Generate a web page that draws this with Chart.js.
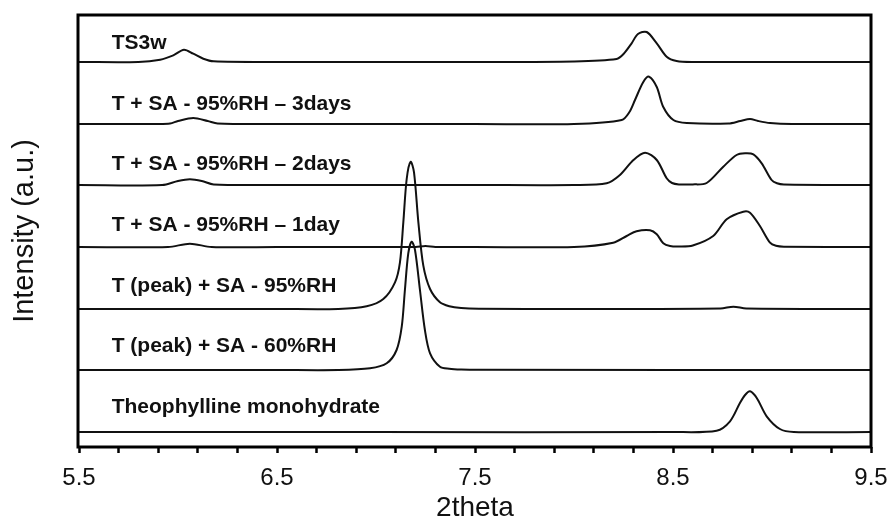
<!DOCTYPE html>
<html>
<head>
<meta charset="utf-8">
<script src="https://cdn.jsdelivr.net/npm/chart.js@4.4.1/dist/chart.umd.min.js"></script>
<style>
  html, body { margin: 0; padding: 0; background: #fff; }
  #wrap { width: 888px; height: 522px; }
</style>
</head>
<body>
<div id="wrap"><canvas id="myChart" width="888" height="522"></canvas></div>
<script>
// sample names, top to bottom
const names = [
  'TS3w',
  'T + SA - 95%RH \u2013 3days',
  'T + SA - 95%RH \u2013 2days',
  'T + SA - 95%RH \u2013 1day',
  'T (peak) + SA - 95%RH',
  'T (peak) + SA - 60%RH',
  'Theophylline monohydrate'
];

// vertical offset of each pattern (a.u.)
const offsets = [385, 323, 262, 200, 138, 77, 15];

// 2theta readings and intensities (above own baseline)
const ts3wX = [5.5, 5.8, 5.91, 5.976, 6.03, 6.077, 6.128, 6.18, 6.5, 7.0, 7.5, 8.0, 8.215, 8.25, 8.291, 8.323, 8.367, 8.418, 8.468, 8.518, 8.6, 9.0, 9.5];
const ts3wY = [0, 0, 2.3, 6.7, 12.3, 8.3, 3.3, 0.7, 0, 0, 0, 0.5, 3, 8, 18.7, 28, 30, 18.7, 5.3, 1, 0, 0, 0];

const day3X = [5.5, 5.9, 5.96, 6.0, 6.077, 6.15, 6.2, 6.5, 7.0, 7.5, 8.0, 8.241, 8.28, 8.308, 8.35, 8.379, 8.418, 8.451, 8.502, 8.57, 8.78, 8.84, 8.889, 8.93, 8.99, 9.1, 9.5];
const day3Y = [0, 0, 0.5, 3, 6, 3, 0.5, 0, 0, 0, 0, 4, 12, 24, 42, 47.3, 37, 17, 4, 1, 0.5, 3, 5, 3, 1, 0, 0];

const day2X = [5.5, 5.92, 6.0, 6.06, 6.12, 6.18, 6.5, 7.0, 7.5, 8.0, 8.165, 8.232, 8.3, 8.359, 8.418, 8.468, 8.495, 8.53, 8.6, 8.67, 8.754, 8.821, 8.864, 8.906, 8.948, 8.998, 9.025, 9.06, 9.5];
const day2Y = [0, 0, 4, 5.7, 4, 0.5, 0, 0, 0, 0, 1.7, 10, 25, 32.3, 25, 6.7, 2, 0.6, 0.6, 2, 18.3, 30, 31.7, 30.7, 21.7, 5, 1.8, 0.6, 0];

const day1X = [5.5, 5.95, 6.06, 6.17, 6.5, 7.0, 7.2, 7.25, 7.3, 7.5, 8.0, 8.198, 8.266, 8.316, 8.384, 8.418, 8.451, 8.485, 8.53, 8.6, 8.703, 8.771, 8.855, 8.889, 8.939, 8.99, 9.02, 9.06, 9.5];
const day1Y = [0, 0, 3.3, 0, 0, 0, 0, 1, 0, 0, 0, 4.3, 11, 15.7, 16.7, 12.7, 3.7, 1, 0.5, 1.5, 11, 27.7, 35.3, 34.3, 21, 4.3, 1.2, 0.3, 0];

const rh95X = [5.5, 6.5, 6.81, 6.953, 7.037, 7.096, 7.121, 7.138, 7.155, 7.175, 7.192, 7.214, 7.239, 7.273, 7.323, 7.37, 7.43, 7.52, 8.0, 8.74, 8.805, 8.87, 9.5];
const rh95Y = [0, 0, 0, 2.7, 10, 26.7, 46.7, 86.7, 130, 147.3, 136.7, 86.7, 43.3, 20, 6.7, 2.8, 1, 0.3, 0, 0.5, 2.3, 0.5, 0];

const rh60X = [5.5, 6.5, 6.81, 6.97, 7.054, 7.104, 7.13, 7.146, 7.163, 7.18, 7.197, 7.222, 7.247, 7.273, 7.323, 7.37, 7.43, 7.52, 9.5];
const rh60Y = [0, 0, 0, 1.7, 6.7, 20, 43.3, 80, 116.7, 128.3, 120, 80, 40, 16.7, 3.3, 1.3, 0.5, 0.2, 0];

const monoX = [5.5, 7.0, 8.5, 8.72, 8.788, 8.838, 8.864, 8.889, 8.923, 8.973, 9.04, 9.11, 9.5];
const monoY = [0, 0, 0, 1.3, 10.7, 29, 37, 40.7, 34, 15.7, 3, 0, 0];

const xTicks = ['5.5', '6.5', '7.5', '8.5', '9.5'];

const allX = [ts3wX, day3X, day2X, day1X, rh95X, rh60X, monoX];
const allY = [ts3wY, day3Y, day2Y, day1Y, rh95Y, rh60Y, monoY];

const FONT = "'Liberation Sans', Arial, sans-serif";

const datasets = names.map(function(n, i) {
  return {
    label: n,
    data: allX[i].map(function(x, k) { return {x: x, y: offsets[i] + allY[i][k]}; }),
    borderColor: '#111',
    borderWidth: 2,
    pointRadius: 0,
    fill: false,
    tension: 0.3
  };
});

// frame round the plot + sample names
const framePlugin = {
  id: 'frame',
  afterDraw: function(chart) {
    const ctx = chart.ctx;
    const a = chart.chartArea;
    const xs = chart.scales.x, ys = chart.scales.y;
    ctx.save();
    ctx.strokeStyle = '#000';
    ctx.lineWidth = 3;
    ctx.strokeRect(a.left - 1, a.top, a.right - a.left + 1, a.bottom - a.top);
    ctx.fillStyle = '#111';
    ctx.font = 'bold 21px ' + FONT;
    ctx.textBaseline = 'middle';
    names.forEach(function(n, i) {
      ctx.fillText(n, xs.getPixelForValue(5.665), ys.getPixelForValue(offsets[i] + 19 + i));
    });
    ctx.restore();
  }
};

const ctx = document.getElementById('myChart');
new Chart(ctx, {
  type: 'line',
  data: { datasets: datasets },
  options: {
    responsive: false,
    animation: false,
    layout: { padding: { top: 15, right: 17, left: 0, bottom: 0 } },
    plugins: { legend: { display: false }, tooltip: { enabled: false } },
    scales: {
      x: {
        type: 'linear',
        min: 5.5,
        max: 9.5,
        afterFit: function(s) { s.height = 75; s.paddingLeft = 0; s.paddingRight = 0; },
        border: { display: false },
        grid: { drawOnChartArea: false, drawTicks: true, tickLength: 6, tickColor: '#000', tickWidth: 2.5 },
        ticks: {
          stepSize: 0.2,
          autoSkip: false,
          maxRotation: 0,
          padding: 11,
          color: '#111',
          font: { family: FONT, size: 24 },
          callback: function(v, idx) { return idx % 5 === 0 ? xTicks[idx / 5] : ''; }
        },
        title: {
          display: true,
          text: '2theta',
          color: '#111',
          font: { family: FONT, size: 28, lineHeight: 1 },
          padding: 0
        }
      },
      y: {
        min: 0,
        max: 432,
        afterFit: function(s) { s.width = 79; },
        border: { display: false },
        grid: { display: false },
        ticks: { display: false },
        title: {
          display: true,
          text: 'Intensity (a.u.)',
          color: '#111',
          font: { family: FONT, size: 29, lineHeight: 1 },
          padding: { top: 10, bottom: 0 }
        }
      }
    }
  },
  plugins: [framePlugin]
});
</script>
</body>
</html>
